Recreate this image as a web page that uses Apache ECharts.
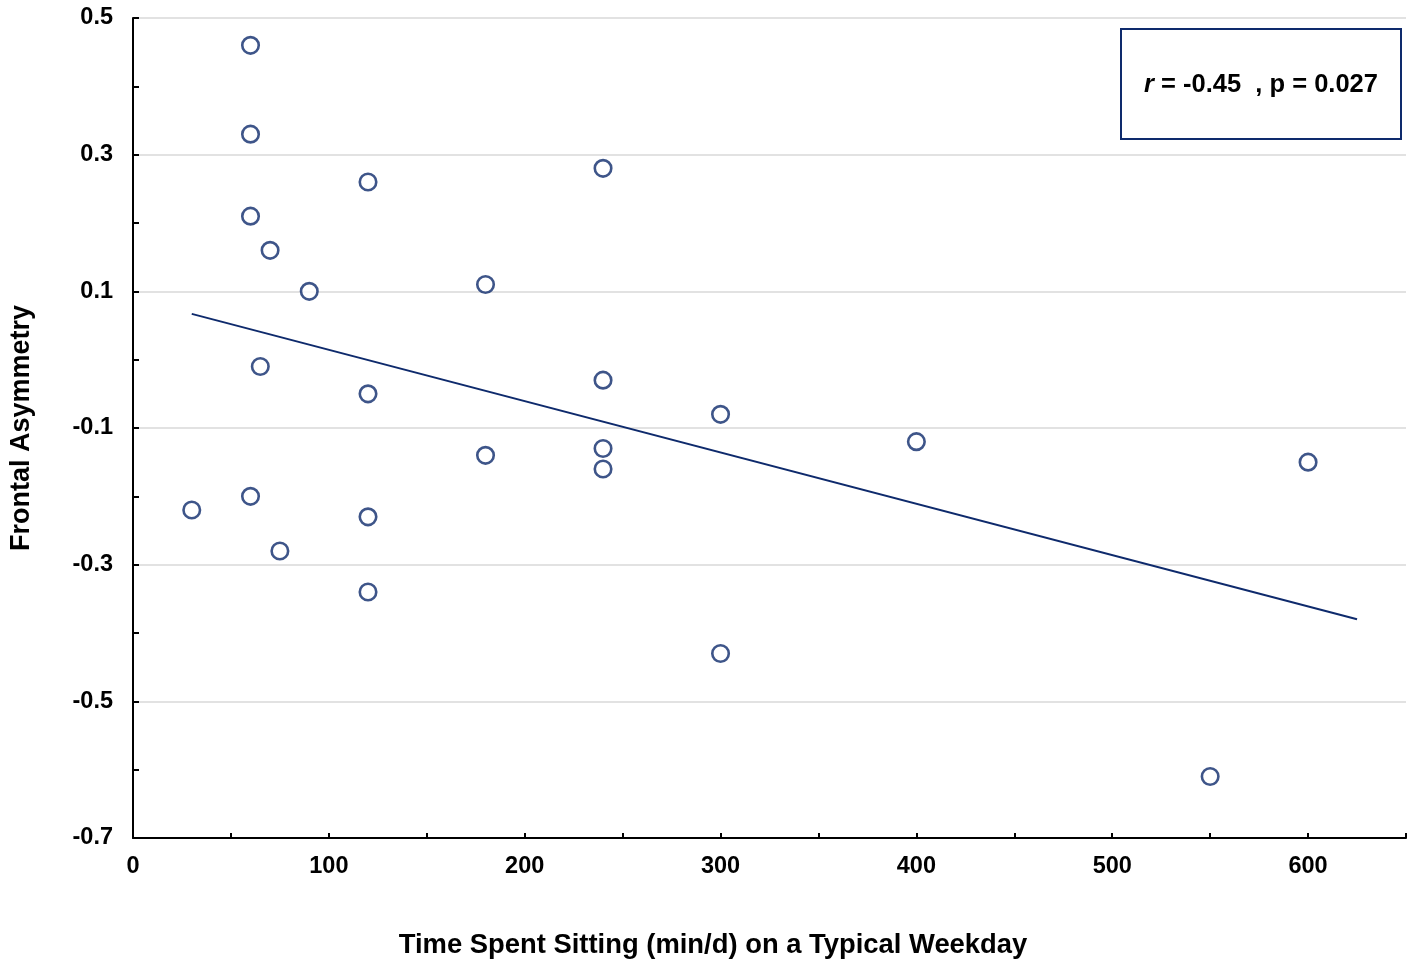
<!DOCTYPE html>
<html>
<head>
<meta charset="utf-8">
<script src="https://cdn.jsdelivr.net/npm/echarts@6/dist/echarts.min.js"></script>
<style>
  html, body { margin: 0; padding: 0; background: #fff; }
  #chart { width: 1411px; height: 963px; }
</style>
</head>
<body>
<div id="chart"></div>
<script>
// minutes sitting per weekday
const sitMinutes = [60, 60, 60, 70, 90, 120, 240, 180, 65, 120, 240, 300, 400, 240, 240, 180, 600, 60, 30, 120, 75, 120, 300, 550]
// frontal asymmetry score
const asymmetry = [0.46, 0.33, 0.21, 0.16, 0.10, 0.26, 0.28, 0.11, -0.01, -0.05, -0.03, -0.08, -0.12, -0.13, -0.16, -0.14, -0.15, -0.20, -0.22, -0.23, -0.28, -0.34, -0.43, -0.61]
// fitted line ends
const trendX = [30, 625]
const trendY = [0.067, -0.38]

const navy = '#0e2a6c'
const font = 'Liberation Sans, Arial, sans-serif'
const chart = echarts.init(document.getElementById('chart'))

const option = {
  animation: false,
  textStyle: { fontFamily: font },
  grid: { left: 133, right: 5, top: 18, bottom: 125, containLabel: false, outerBoundsMode: 'none' },
  xAxis: {
    type: 'value',
    min: 0,
    max: 650,
    interval: 50,
    axisLine: { show: true, onZero: false, lineStyle: { color: '#000', width: 2 } },
    axisTick: { show: true, inside: true, length: 5, lineStyle: { color: '#000', width: 2 } },
    axisLabel: {
      color: '#000', fontSize: 23.5, fontWeight: 'bold', margin: 17,
      formatter: v => (v % 100 === 0 && v <= 600) ? String(v) : ''
    },
    splitLine: { show: false }
  },
  yAxis: {
    type: 'value',
    min: -0.7,
    max: 0.5,
    interval: 0.2,
    name: 'Frontal Asymmetry',
    nameLocation: 'middle',
    nameGap: 98,
    nameTextStyle: { color: '#000', fontSize: 27, fontWeight: 'bold' },
    axisLine: { show: true, lineStyle: { color: '#000', width: 2 } },
    axisTick: { show: true, inside: true, length: 6, lineStyle: { color: '#000', width: 2 } },
    minorTick: { show: true, splitNumber: 2, length: 6, lineStyle: { color: '#000', width: 2 } },
    axisLabel: {
      color: '#000', fontSize: 23.5, fontWeight: 'bold', margin: 20,
      formatter: v => v.toFixed(1)
    },
    splitLine: { show: true, lineStyle: { color: '#d9d9d9', width: 1.5 } }
  },
  graphic: [
    {
      type: 'text',
      x: 713,
      y: 945,
      style: {
        text: 'Time Spent Sitting (min/d) on a Typical Weekday',
        fill: '#000',
        align: 'center',
        verticalAlign: 'middle',
        font: 'bold 27.4px ' + font
      }
    },
    {
      type: 'rect',
      shape: { x: 1121, y: 29, width: 280, height: 110 },
      style: { fill: '#fff', stroke: navy, lineWidth: 2 },
      z: 10
    },
    {
      type: 'text',
      x: 1261,
      y: 85,
      z: 11,
      style: {
        text: '{i|r}{n| = -0.45  , p = 0.027}',
        align: 'center',
        verticalAlign: 'middle',
        rich: {
          i: { fontStyle: 'italic', fontWeight: 'bold', fontSize: 25.5, fill: '#000', fontFamily: font },
          n: { fontWeight: 'bold', fontSize: 25.5, fill: '#000', fontFamily: font }
        }
      }
    }
  ],
  series: [
    {
      type: 'line',
      data: trendX.map((x, i) => [x, trendY[i]]),
      showSymbol: false,
      lineStyle: { color: navy, width: 2 },
      silent: true,
      z: 2
    },
    {
      type: 'scatter',
      data: sitMinutes.map((x, i) => [x, asymmetry[i]]),
      symbol: 'circle',
      symbolSize: 16.5,
      itemStyle: { color: '#fff', borderColor: navy, borderWidth: 2.6 },
      z: 3
    }
  ]
}

chart.setOption(option)
</script>
</body>
</html>
